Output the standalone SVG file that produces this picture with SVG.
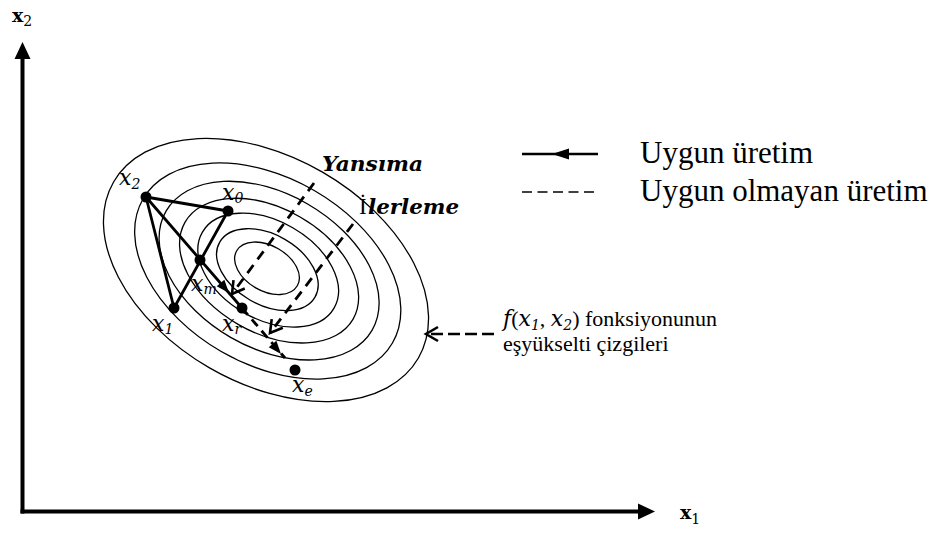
<svg xmlns="http://www.w3.org/2000/svg" width="948" height="534" viewBox="0 0 948 534">
<style>
.ell{fill:none;stroke:#000;stroke-width:1.3}
.sol{fill:none;stroke:#000;stroke-width:2.8;stroke-linecap:round}
.dsh{fill:none;stroke:#000;stroke-width:2.8;stroke-dasharray:10 7}
.dot{fill:#000}
.m{font-family:"DejaVu Serif",serif;font-style:italic;font-size:22px;fill:#000}
.sub{font-size:14px}
.t{font-family:"Liberation Serif","Times New Roman",serif;fill:#000}
.bi{font-family:"DejaVu Serif",serif;font-style:italic;font-weight:bold;font-size:20px;fill:#000}
.ax{font-family:"DejaVu Serif",serif;font-weight:bold;font-size:19px;fill:#000}
</style>
<defs>
<marker id="vhead" markerUnits="userSpaceOnUse" markerWidth="30" markerHeight="30" refX="0" refY="0" viewBox="-15 -15 30 30" orient="auto" overflow="visible">
<path d="M-12,-7 L0,0 L-12,7" fill="none" stroke="#000" stroke-width="2.6" stroke-dasharray="none"/>
</marker>
<polygon id="tri" points="0,0 -13,-5 -13,5" fill="#000"/>
</defs>

<g id="axes">
<line x1="22.5" y1="56" x2="22.5" y2="513.5" stroke="#000" stroke-width="4"/>
<polygon points="22.5,42 14.5,59 30.5,59" fill="#000"/>
<line x1="20.5" y1="511.5" x2="640" y2="511.5" stroke="#000" stroke-width="4"/>
<polygon points="655,511.5 638,503.5 638,519.5" fill="#000"/>
<text class="ax" x="12" y="22">x<tspan class="sub" dy="4" font-weight="normal">2</tspan></text>
<text class="ax" x="680" y="519">x<tspan class="sub" dy="5" font-weight="normal">1</tspan></text>
</g>

<g id="contours" transform="translate(266,270) rotate(30)">
<ellipse class="ell" cx="0" cy="0" rx="176" ry="113"/>
<ellipse class="ell" cx="2" cy="0" rx="144" ry="93"/>
<ellipse class="ell" cx="3" cy="-1" rx="119" ry="77"/>
<ellipse class="ell" cx="3" cy="-1" rx="97" ry="62"/>
<ellipse class="ell" cx="2" cy="-1" rx="76" ry="49"/>
<ellipse class="ell" cx="1" cy="-1" rx="55" ry="35"/>
<ellipse class="ell" cx="0" cy="-2" rx="35" ry="22.6"/>
</g>

<g id="connectors">
<line class="sol" x1="146" y1="197" x2="228" y2="211"/>
<line class="sol" x1="146" y1="197" x2="174" y2="308"/>
<line class="sol" x1="174" y1="308" x2="228" y2="211"/>
<line class="sol" x1="146" y1="197" x2="242" y2="308"/>
<use href="#tri" transform="translate(229,293) rotate(49.5)"/>
<line x1="242" y1="308" x2="285" y2="358" stroke="#000" stroke-width="2.8" stroke-dasharray="9 6"/>
<use href="#tri" transform="translate(281,354) rotate(49.5)"/>
<line class="dsh" x1="314" y1="183" x2="232" y2="294" marker-end="url(#vhead)"/>
<line class="dsh" x1="353" y1="224" x2="270" y2="333" marker-end="url(#vhead)"/>
<line x1="494" y1="334" x2="426" y2="334" stroke="#000" stroke-width="2.6" stroke-dasharray="12 5" marker-end="url(#vhead)"/>
</g>

<g id="points">
<g id="x2"><circle class="dot" cx="146" cy="197" r="5.5"/><text class="m" x="119" y="185">x<tspan class="sub" dy="4">2</tspan></text></g>
<g id="x0"><circle class="dot" cx="228" cy="211" r="5.5"/><text class="m" x="222" y="200">x<tspan class="sub" dy="3">0</tspan></text></g>
<g id="xm"><circle class="dot" cx="200" cy="260" r="5.5"/><text class="m" x="191" y="291">x<tspan class="sub" dy="3">m</tspan></text></g>
<g id="x1"><circle class="dot" cx="174" cy="308" r="5.5"/><text class="m" x="152" y="331">x<tspan class="sub" dy="3">1</tspan></text></g>
<g id="xr"><circle class="dot" cx="242" cy="308" r="5.5"/><text class="m" x="222" y="331">x<tspan class="sub" dy="3">r</tspan></text></g>
<g id="xe"><circle class="dot" cx="295" cy="370" r="5.5"/><text class="m" x="292" y="392">x<tspan class="sub" dy="4">e</tspan></text></g>
</g>

<g id="labels">
<text class="bi" x="322" y="171" textLength="101" lengthAdjust="spacingAndGlyphs">Yansıma</text>
<text class="t" x="359" y="214" font-size="23">İ</text>
<text class="bi" x="368" y="214" textLength="91" lengthAdjust="spacingAndGlyphs">lerleme</text>
</g>

<g id="legend">
<line x1="522" y1="154" x2="598" y2="154" stroke="#000" stroke-width="2.5"/>
<polygon points="552,154 569,148.5 569,159.5" fill="#000"/>
<line x1="522" y1="192" x2="598" y2="192" stroke="#000" stroke-width="1.5" stroke-dasharray="10 5.5"/>
<text class="t" x="640" y="163" font-size="31">Uygun üretim</text>
<text class="t" x="640" y="201" font-size="31">Uygun olmayan üretim</text>
</g>

<g id="note">
<text x="503" y="326" font-size="22"><tspan class="m">f</tspan><tspan class="t">(</tspan><tspan class="m">x</tspan><tspan class="m sub" baseline-shift="-4">1</tspan><tspan class="t">, </tspan><tspan class="m">x</tspan><tspan class="m sub" baseline-shift="-4">2</tspan><tspan class="t">) fonksiyonunun</tspan></text>
<text class="t" x="503" y="351" font-size="22">eşyükselti çizgileri</text>
</g>
</svg>
